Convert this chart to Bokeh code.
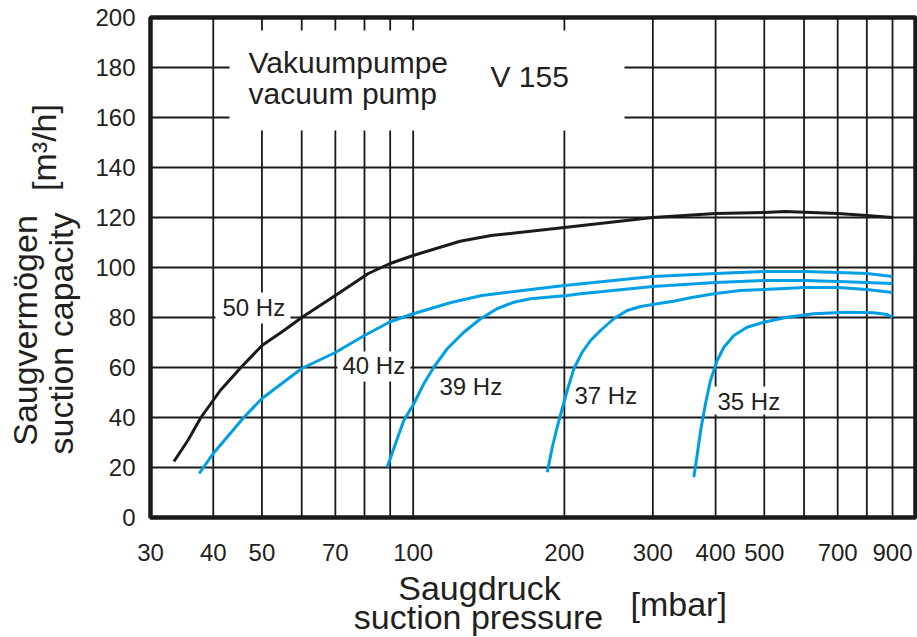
import math
from bokeh.plotting import figure
from bokeh.models import Range1d, Label
from bokeh.core.properties import value
from bokeh.embed import file_html
from bokeh.resources import INLINE

# ---- data ----
p50 = [33.4, 35.6, 37.8, 41.3, 45.4, 50, 55.3, 60, 70, 81.4, 90, 100, 124, 143, 200, 300, 400, 500, 550, 700, 800, 900]
q50 = [22.4, 30.8, 40, 50.8, 60, 68.8, 74.8, 80, 88.8, 97.6, 101.6, 104.8, 110.5, 112.8, 116, 120, 121.6, 122, 122.4, 121.6, 120.8, 120]

p40 = [37.5, 40, 46, 50, 60, 70, 80, 90, 100, 119, 137, 200, 300, 400, 500, 600, 700, 800, 900]
q40 = [17.6, 25.6, 40, 47.6, 59.6, 66, 72.8, 78.3, 81.5, 86, 88.8, 92.8, 96.4, 97.6, 98.4, 98.4, 98, 97.6, 96.4]

p39 = [88.8, 92.2, 95.8, 100.3, 105, 109.9, 116.9, 126.1, 136.2, 146.9, 158.6, 171.2, 184.9, 202.6, 215.4, 300, 400, 500, 600, 700, 800, 900]
q39 = [20.1, 29.5, 38.8, 45.5, 53.5, 60.1, 67.5, 74.1, 79.5, 83.5, 86.1, 87.5, 88.1, 88.8, 89.5, 92.4, 94, 94.8, 94.8, 94.4, 94, 93.6]

p37 = [184.9, 189.2, 193.5, 198, 202.6, 208.9, 217, 225.5, 236, 250.8, 266.7, 283.5, 306, 330, 356.6, 396.7, 448, 500, 600, 700, 800, 900]
q37 = [18.1, 28.1, 36.1, 43.5, 50.8, 59.5, 66.1, 70.8, 74.8, 79.5, 82.8, 84.4, 85.5, 86.5, 87.9, 89.5, 90.8, 91.2, 92, 92, 91.2, 90]

p35 = [362, 367.9, 373.5, 381.9, 390.7, 403, 415.5, 435, 462, 499, 555, 627, 731, 826, 878, 900]
q35 = [16.1, 25.5, 34.8, 45.5, 54.8, 62.8, 68.1, 72.8, 76.1, 78.1, 80.1, 81.5, 82.1, 81.9, 81.2, 80.1]

x_limits = [30, 1000]
y_limits = [0, 200]
x_tick_values = [30, 40, 50, 70, 100, 200, 300, 400, 500, 700, 900]
x_tick_labels = ["30", "40", "50", "70", "100", "200", "300", "400", "500", "700", "900"]
y_tick_values = [0, 20, 40, 60, 80, 100, 120, 140, 160, 180, 200]
y_tick_labels = ["0", "20", "40", "60", "80", "100", "120", "140", "160", "180", "200"]
x_grid_values = [40, 50, 60, 70, 80, 90, 100, 200, 300, 400, 500, 600, 700, 800, 900]
y_grid_values = [20, 40, 60, 80, 100, 120, 140, 160, 180]

# ---- layout helpers (reference pixel -> data) ----
W, H = 917, 637
FL, FR, FT, FB = 150, 915, 17, 517
LOG_SPAN = math.log10(x_limits[1] / x_limits[0])

def px2x(px):
    return x_limits[0] * 10 ** ((px - FL) / (FR - FL) * LOG_SPAN)

def py2y(py):
    return y_limits[0] + (FB - py) * (y_limits[1] - y_limits[0]) / (FB - FT)

FONT = "Liberation Sans"
TXT = "#231f20"
BLUE = "#009fe3"
BLACK = "#1a1a1a"

p = figure(x_axis_type="log", x_range=Range1d(px2x(0), px2x(W)), y_range=Range1d(py2y(H), py2y(0)),
           width=W, height=H, min_border=0,
           output_backend="svg", toolbar_location=None, tools="")
p.axis.visible = False
p.grid.visible = False
p.outline_line_color = None
p.background_fill_color = "white"
p.border_fill_color = "white"

# grid
p.segment(x0=x_grid_values, x1=x_grid_values,
          y0=[y_limits[0]] * len(x_grid_values), y1=[y_limits[1]] * len(x_grid_values),
          line_color=BLACK, line_width=1.8)
p.segment(x0=[x_limits[0]] * len(y_grid_values), x1=[x_limits[1]] * len(y_grid_values),
          y0=y_grid_values, y1=y_grid_values, line_color=BLACK, line_width=1.8)

# white boxes that interrupt the grid (reference pixel boxes)
boxes = [(229, 624, 30, 130), (215, 290, 292, 323), (337, 410, 351, 381), (712, 786, 386, 414)]
p.quad(left=[px2x(b[0]) for b in boxes], right=[px2x(b[1]) for b in boxes],
       top=[py2y(b[2]) for b in boxes], bottom=[py2y(b[3]) for b in boxes],
       fill_color="white", line_color=None)

# frame
p.quad(left=[x_limits[0]], right=[x_limits[1]], bottom=[y_limits[0]], top=[y_limits[1]],
       fill_color=None, line_color=BLACK, line_width=4.5)

# curves
p.line(p50, q50, line_color=BLACK, line_width=3, line_join="round")
for xs, ys in ((p40, q40), (p39, q39), (p37, q37), (p35, q35)):
    p.line(xs, ys, line_color=BLUE, line_width=3, line_join="round")

# tick labels
p.text(x=x_tick_values, y=[py2y(552)] * len(x_tick_values), text=x_tick_labels,
       text_font=value(FONT), text_font_size="24px", text_color=TXT,
       text_align="center", text_baseline="middle")
p.text(x=[px2x(135)] * len(y_tick_values), y=y_tick_values, text=y_tick_labels,
       text_font=value(FONT), text_font_size="24px", text_color=TXT,
       text_align="right", text_baseline="middle")

MID = 0.35

def lab(text, px, py, size, align="left"):
    # px, py: left/centre x and baseline y in reference pixels
    p.add_layout(Label(x=px2x(px), y=py2y(py - MID * size), text=text, text_font=FONT,
                       text_font_size=f"{size}px", text_color=TXT, text_align=align,
                       text_baseline="middle"))

def vlab(text, px, py, size):
    # rotated text: px is the baseline x, py the centre y, in reference pixels
    p.add_layout(Label(x=px2x(px - MID * size), y=py2y(py), text=text, text_font=FONT,
                       text_font_size=f"{size}px", text_color=TXT, text_align="center",
                       text_baseline="middle", angle=math.pi / 2))

lab("50 Hz", 222, 315, 24)
lab("40 Hz", 342, 373, 24)
lab("39 Hz", 439, 394, 24)
lab("37 Hz", 574, 403, 24)
lab("35 Hz", 717, 409, 24)
lab("Vakuumpumpe", 248, 72, 30)
lab("vacuum pump", 248, 103, 30)
lab("V 155", 490, 86, 30)
lab("Saugdruck", 479, 599, 34, align="center")
lab("suction pressure", 478, 628, 34, align="center")
lab("[mbar]", 630, 615, 34)
vlab("Saugvermögen", 36, 330, 34)
vlab("suction capacity", 72, 333, 34)
vlab("[m³/h]", 55, 147, 34)

open("out.html", "w").write(file_html(p, INLINE))
